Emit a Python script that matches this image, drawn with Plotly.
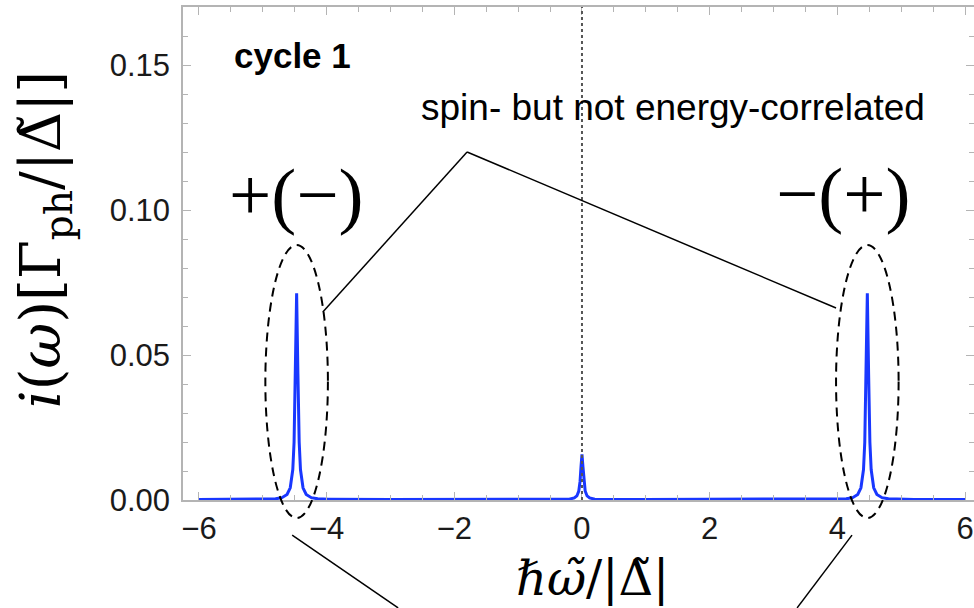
import plotly.graph_objects as go

# spectrum i(w)
omega = [-6.0, -5.2, -4.97, -4.80, -4.70, -4.62, -4.57, -4.53, -4.51, -4.49, -4.47,
         -4.45, -4.43, -4.41, -4.37, -4.32, -4.24, -4.14, -3.97, -3.0, -2.0, -1.0,
         -0.5, -0.3, -0.2, -0.12, -0.08, -0.05, -0.03, -0.015, 0.0, 0.015, 0.03,
         0.05, 0.08, 0.12, 0.2, 0.3, 0.5, 1.0, 2.0, 3.0, 3.97, 4.14, 4.24, 4.32,
         4.37, 4.41, 4.43, 4.45, 4.47, 4.49, 4.51, 4.53, 4.57, 4.62, 4.70, 4.80,
         4.97, 5.2, 6.0]
intensity = [0.0002, 0.0002, 0.0003, 0.0004, 0.0008, 0.0019, 0.0042, 0.0105, 0.0200,
             0.0435, 0.0713, 0.0435, 0.0200, 0.0105, 0.0042, 0.0019, 0.0008, 0.0004,
             0.0003, 0.0002, 0.0002, 0.0002, 0.0002, 0.0002, 0.0003, 0.0007, 0.0014,
             0.0031, 0.0064, 0.0115, 0.0157, 0.0115, 0.0064, 0.0031, 0.0014, 0.0007,
             0.0003, 0.0002, 0.0002, 0.0002, 0.0002, 0.0002, 0.0003, 0.0004, 0.0008,
             0.0019, 0.0042, 0.0105, 0.0200, 0.0435, 0.0713, 0.0435, 0.0200, 0.0105,
             0.0042, 0.0019, 0.0008, 0.0004, 0.0003, 0.0002, 0.0002]

x_ticks = [-6, -4, -2, 0, 2, 4, 6]
x_labels = ["\u22126", "\u22124", "\u22122", "0", "2", "4", "6"]
y_ticks = [0.0, 0.05, 0.10, 0.15]
y_labels = ["0.00", "0.05", "0.10", "0.15"]

X_RANGE = [-6.25, 6.141]
Y_RANGE = [0.0, 0.170]


def px(xv):
    return (xv - X_RANGE[0]) / (X_RANGE[1] - X_RANGE[0])


def py(yv):
    return (yv - Y_RANGE[0]) / (Y_RANGE[1] - Y_RANGE[0])


fig = go.Figure()
fig.add_trace(go.Scatter(x=omega, y=intensity, mode="lines",
                         line=dict(color="rgb(25,55,255)", width=3), showlegend=False))

# dotted line at zero
fig.add_shape(type="line", xref="x", yref="paper", x0=0, x1=0, y0=0, y1=1,
              line=dict(color="#555555", width=2, dash="dot"))

# dashed ellipses around the side peaks
for xc in [-4.47, 4.47]:
    fig.add_shape(type="circle", xref="paper", yref="paper",
                  x0=px(xc - 0.49), x1=px(xc + 0.49), y0=py(-0.0062), y1=py(0.0879),
                  line=dict(color="black", width=2, dash="9px,6px"))

# connector lines
seg = [((-1.80, 0.120), (-4.06, 0.0648)),
       ((-1.80, 0.120), (3.98, 0.0662)),
       ((-4.54, -0.0121), (-2.88, -0.0372)),
       ((4.23, -0.0121), (3.37, -0.0372))]
for (a, b) in seg:
    fig.add_shape(type="line", xref="paper", yref="paper",
                  x0=px(a[0]), y0=py(a[1]), x1=px(b[0]), y1=py(b[1]),
                  line=dict(color="black", width=1.5))

sans = "Liberation Sans, Arial, sans-serif"
serif = "DejaVu Serif, Liberation Serif, serif"


def label(xp, yp, text, family, size, angle=0):
    fig.add_annotation(x=xp, y=yp, xref="paper", yref="paper", text=text,
                       xanchor="center", yanchor="middle", textangle=angle,
                       showarrow=False, font=dict(family=family, size=size, color="black"))


label(px(-4.54), py(0.1534), "<b>cycle 1</b>", sans, 35)
label(px(1.43), py(0.1355), "spin- but not energy-correlated", sans, 37)
label(px(-4.47), py(0.1055), "+(\u2212)", "Liberation Serif, serif", 75)
label(px(4.09), py(0.1058), "\u2212(+)", "Liberation Serif, serif", 75)

# axis titles
label(px(0.17), py(-0.0270), "<i>\u210f\u03c9\u0303</i>/|\u0394\u0303|", serif, 48)
label(-0.174, py(0.0897), "<i>i</i>(<i>\u03c9</i>)[\u0393<sub>ph</sub>/|\u0394\u0303|]", serif, 56, -90)

axis_style = dict(showline=True, linecolor="#b4b4b4", linewidth=1.5, mirror="ticks",
                  ticks="inside", ticklen=8, tickcolor="#b4b4b4", tickwidth=1.2,
                  showgrid=False, zeroline=False, automargin=False,
                  tickfont=dict(family=sans, size=31, color="#1a1a1a"))

fig.update_xaxes(range=X_RANGE, tickvals=x_ticks, ticktext=x_labels,
                 minor=dict(dtick=0.5, tick0=0, ticks="inside", ticklen=5,
                            tickcolor="#b4b4b4", tickwidth=1.2), **axis_style)
fig.update_yaxes(range=Y_RANGE, tickvals=y_ticks, ticktext=y_labels, ticklabelstandoff=5,
                 minor=dict(dtick=0.01, tick0=0, ticks="inside", ticklen=5,
                            tickcolor="#b4b4b4", tickwidth=1.2), **axis_style)

fig.update_layout(width=974, height=608, margin=dict(l=183, r=0, t=7, b=108, autoexpand=False),
                  plot_bgcolor="white", paper_bgcolor="white")

fig.write_html("out.html", config={"displayModeBar": False},
               post_script="document.body.style.margin='0';")
